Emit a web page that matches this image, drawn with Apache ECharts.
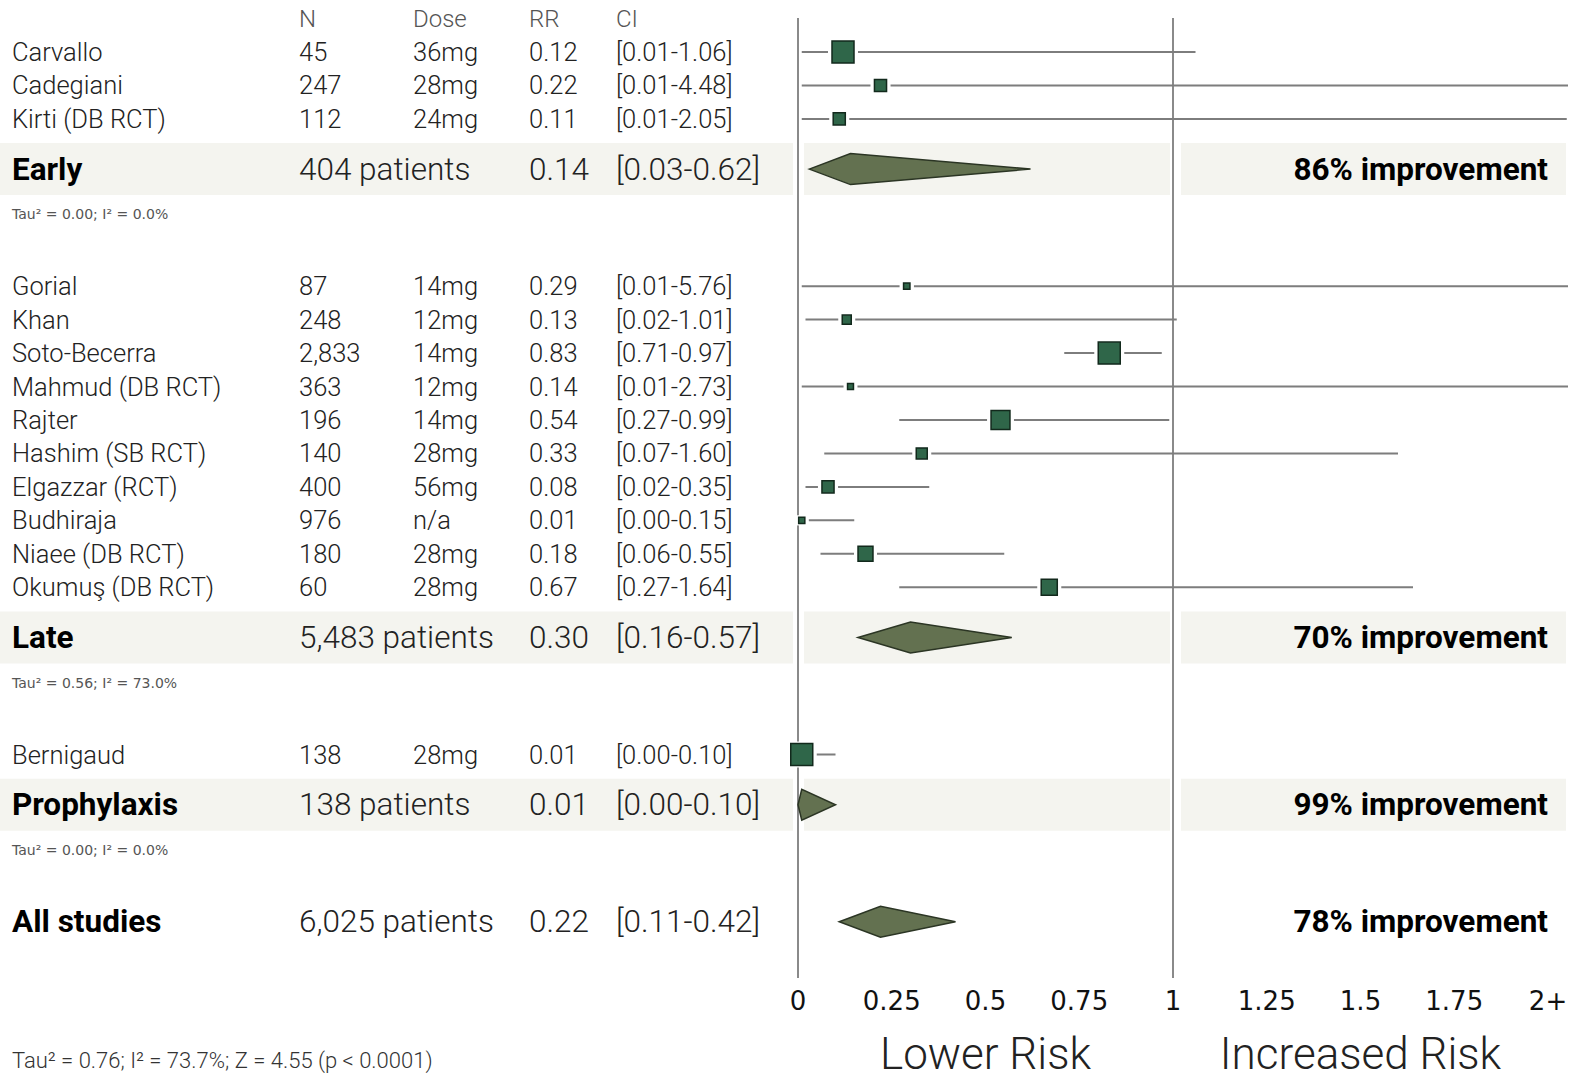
<!DOCTYPE html>
<html>
<head>
<meta charset="utf-8">
<script src="https://cdn.jsdelivr.net/npm/echarts@6/dist/echarts.min.js"></script>
<style>
html,body{margin:0;padding:0;background:#fff;}
#chart{width:1571px;height:1080px;}
</style>
</head>
<body>
<div id="chart"></div>
<script>
// ---------- DATA ----------
const studyNames = ['Carvallo','Cadegiani','Kirti (DB RCT)',
  'Gorial','Khan','Soto-Becerra','Mahmud (DB RCT)','Rajter','Hashim (SB RCT)','Elgazzar (RCT)','Budhiraja','Niaee (DB RCT)','Okumuş (DB RCT)',
  'Bernigaud'];
const studyGroup = [0,0,0, 1,1,1,1,1,1,1,1,1,1, 2];
const studyN = ['45','247','112','87','248','2,833','363','196','140','400','976','180','60','138'];
const studyDose = ['36mg','28mg','24mg','14mg','12mg','14mg','12mg','14mg','28mg','56mg','n/a','28mg','28mg','28mg'];
const studyRR = [0.12,0.22,0.11, 0.29,0.13,0.83,0.14,0.54,0.33,0.08,0.01,0.18,0.67, 0.01];
const studyLo = [0.01,0.01,0.01, 0.01,0.02,0.71,0.01,0.27,0.07,0.02,0.00,0.06,0.27, 0.00];
const studyHi = [1.06,4.48,2.05, 5.76,1.01,0.97,2.73,0.99,1.60,0.35,0.15,0.55,1.64, 0.10];
const studyWeight = [1.00,0.55,0.55, 0.29,0.41,1.00,0.27,0.86,0.50,0.55,0.28,0.68,0.73, 1.00];

const groupNames = ['Early','Late','Prophylaxis'];
const groupPatients = ['404 patients','5,483 patients','138 patients'];
const groupRR = [0.14,0.30,0.01];
const groupLo = [0.03,0.16,0.00];
const groupHi = [0.62,0.57,0.10];
const groupImprovement = ['86% improvement','70% improvement','99% improvement'];
const groupTau = ['Tau² = 0.00; I² = 0.0%','Tau² = 0.56; I² = 73.0%','Tau² = 0.00; I² = 0.0%'];

const allName = 'All studies';
const allPatients = '6,025 patients';
const allRR = 0.22, allLo = 0.11, allHi = 0.42;
const allImprovement = '78% improvement';
const footnote = 'Tau² = 0.76; I² = 73.7%; Z = 4.55 (p < 0.0001)';

const headers = ['N','Dose','RR','CI'];
const xTicks = [0,0.25,0.5,0.75,1,1.25,1.5,1.75,2];
const xTickLabels = ['0','0.25','0.5','0.75','1','1.25','1.5','1.75','2+'];
const refLines = [0,1];
const riskLabels = ['Lower Risk','Increased Risk'];
const riskPos = [0.5,1.5];

// ---------- LAYOUT (row positions in row units) ----------
const studyRow = [];
const groupRow = [];
let r = 0;
for (let g = 0; g < groupNames.length; g++) {
  studyGroup.forEach((sg, i) => { if (sg === g) { studyRow[i] = r; r += 1; } });
  groupRow[g] = r - 1 + 1.5;
  r = groupRow[g] + 3.5;
}
const allRow = groupRow[groupRow.length - 1] + 3.5;

const X_MAX = 770 / 375;
const COL = {name: 12, n: 299, dose: 413, rr: 529, ci: 616};
const FONT = 'Roboto, "Noto Sans", sans-serif';
const MARKER_MAX = 22;

function txt(x, y, text, size, weight, color, align, family, lh) {
  return {type: 'text', x: x, y: y, style: {text: text, fill: color, fontSize: size, fontWeight: weight, fontFamily: family || FONT, align: align || 'left', verticalAlign: 'middle', lineHeight: lh || size}};
}
const ciText = (lo, hi) => '[' + lo.toFixed(2) + '-' + hi.toFixed(2) + ']';

const chart = echarts.init(document.getElementById('chart'), null, {renderer: 'svg'});

const summaryData = groupRR.map((v, i) => [v, groupLo[i], groupHi[i], groupRow[i], i]);
summaryData.push([allRR, allLo, allHi, allRow, -1]);

chart.setOption({
  animation: false,
  backgroundColor: '#fff',
  grid: {left: 798, right: 3, top: 18, bottom: 102},
  xAxis: {
    type: 'value', min: 0, max: X_MAX, interval: 0.25,
    axisLine: {show: false}, axisTick: {show: false}, splitLine: {show: false},
    axisLabel: {
      showMaxLabel: false, margin: 10, color: '#111', fontSize: 26, fontFamily: '"DejaVu Sans", sans-serif',
      formatter: v => { const k = xTicks.findIndex(t => Math.abs(t - v) < 1e-6); return k >= 0 ? xTickLabels[k] : ''; }
    }
  },
  yAxis: {type: 'value', inverse: true, min: -1.016, max: 27.68, show: false},
  series: [
    { // bands
      type: 'custom', z: 0, clip: false,
      data: groupRow.map((v, i) => [0, v, i]),
      encode: {x: 0, y: 1},
      renderItem: (p, api) => {
        const y = api.coord([0, api.value(1)])[1];
        const x0 = api.coord([0, 0])[0], x1 = api.coord([1, 0])[0];
        const xe = api.coord([X_MAX, 0])[0];
        const h = 52, fill = '#f4f4ef';
        return {type: 'group', children: [
          {type: 'rect', shape: {x: 0, y: y - h/2, width: x0 - 5, height: h}, style: {fill: fill}},
          {type: 'rect', shape: {x: x0 + 6, y: y - h/2, width: x1 - x0 - 9, height: h}, style: {fill: fill}},
          {type: 'rect', shape: {x: x1 + 8, y: y - h/2, width: xe - x1 - 10, height: h}, style: {fill: fill}}
        ]};
      }
    },
    { // reference lines
      type: 'custom', z: 1, clip: false,
      data: refLines.map(v => [v]),
      encode: {x: 0},
      renderItem: (p, api) => {
        const x = api.coord([api.value(0), 0])[0];
        const yT = api.coord([0, -1.016])[1], yB = api.coord([0, 27.68])[1];
        return {type: 'line', shape: {x1: x, y1: yT, x2: x, y2: yB}, style: {stroke: '#8a8a8a', lineWidth: 2}};
      }
    },
    { // header
      type: 'custom', z: 2, clip: false,
      data: [[0, -1]],
      encode: {x: 0, y: 1},
      renderItem: (p, api) => {
        const y = api.coord([0, api.value(1)])[1];
        const xs = [COL.n, COL.dose, COL.rr, COL.ci];
        return {type: 'group', children: headers.map((h, k) => txt(xs[k], y, h, 24, 300, '#555'))};
      }
    },
    { // studies
      type: 'custom', z: 2, clip: false,
      data: studyRR.map((v, i) => [v, studyLo[i], studyHi[i], studyWeight[i], studyRow[i]]),
      encode: {x: [0, 1, 2], y: 4},
      renderItem: (p, api) => {
        const i = p.dataIndex;
        const y = api.coord([0, api.value(4)])[1];
        const xr = api.coord([api.value(0), 0])[0];
        const xl = api.coord([api.value(1), 0])[0];
        const xh = api.coord([Math.min(api.value(2), X_MAX), 0])[0];
        const h = MARKER_MAX * api.value(3), w = h;
        return {type: 'group', children: [
          {type: 'line', shape: {x1: xl, y1: y, x2: xh, y2: y}, style: {stroke: '#7d7d7d', lineWidth: 2}},
          {type: 'rect', shape: {x: xr - w/2 - 4, y: y - h/2 - 2, width: w + 8, height: h + 4}, style: {fill: '#fff'}},
          {type: 'rect', shape: {x: xr - w/2, y: y - h/2, width: w, height: h}, style: {fill: '#2f6649', stroke: '#12291c', lineWidth: 1.5}},
          txt(COL.name, y, studyNames[i], 25.5, 300, '#222'),
          txt(COL.n, y, studyN[i], 25.5, 300, '#222'),
          txt(COL.dose, y, studyDose[i], 25.5, 300, '#222'),
          txt(COL.rr, y, studyRR[i].toFixed(2), 25.5, 300, '#222'),
          txt(COL.ci, y, ciText(studyLo[i], studyHi[i]), 25.5, 300, '#222')
        ]};
      }
    },
    { // summaries
      type: 'custom', z: 3, clip: false,
      data: summaryData,
      encode: {x: [0, 1, 2], y: 3},
      renderItem: (p, api) => {
        const g = api.value(4);
        const isAll = g < 0;
        const y = api.coord([0, api.value(3)])[1];
        const xr = api.coord([api.value(0), 0])[0];
        const xl = api.coord([api.value(1), 0])[0];
        const xh = api.coord([api.value(2), 0])[0];
        const hh = 15.5;
        const xRight = api.coord([X_MAX, 0])[0] - 20;
        const children = [
          {type: 'polygon', shape: {points: [[xl, y], [xr, y - hh], [xh, y], [xr, y + hh]]}, style: {fill: '#637150', stroke: '#2b3524', lineWidth: 1.5}},
          txt(COL.name, y, isAll ? allName : groupNames[g], 31.5, 'bold', '#000'),
          txt(COL.n, y, isAll ? allPatients : groupPatients[g], 31.5, 300, '#222'),
          txt(COL.rr, y, api.value(0).toFixed(2), 31.5, 300, '#222'),
          txt(COL.ci, y, ciText(api.value(1), api.value(2)), 31.5, 300, '#222'),
          txt(xRight, y, isAll ? allImprovement : groupImprovement[g], 31.5, 'bold', '#000', 'right')
        ];
        if (!isAll) {
          const yt = api.coord([0, api.value(3) + 1.35])[1];
          children.push(txt(COL.name, yt, groupTau[g], 14, 'normal', '#555', 'left', '"DejaVu Sans", sans-serif'));
        }
        return {type: 'group', children: children};
      }
    },
    { // risk labels
      type: 'custom', z: 2, clip: false,
      data: riskPos.map(v => [v]),
      encode: {x: 0},
      renderItem: (p, api) => {
        const x = api.coord([api.value(0), 0])[0];
        return txt(x, 1054, riskLabels[p.dataIndex], 44, 300, '#222', 'center');
      }
    }
  ],
  graphic: [
    {type: 'text', left: 12, top: 1049, style: {text: footnote, fill: '#333', fontSize: 22, fontWeight: 300, fontFamily: FONT}}
  ]
});
</script>
</body>
</html>
